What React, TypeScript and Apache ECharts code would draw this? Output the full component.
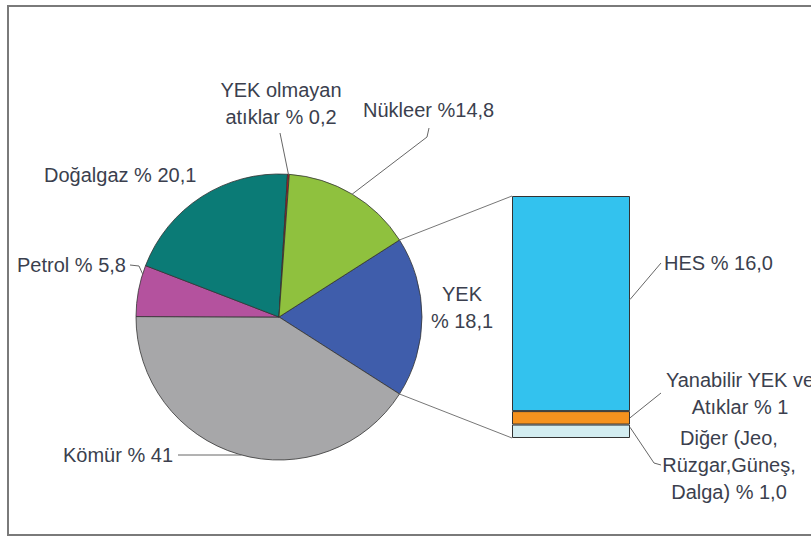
import React, { useEffect, useRef } from "react";
import * as echarts from "echarts";

// Pie (clockwise from the YEK slice)
const pieNames = ["YEK", "Kömür", "Petrol", "Doğalgaz", "YEK olmayan atıklar", "Nükleer"];
const pieValues = [18.1, 41, 5.8, 20.1, 0.2, 14.8];
const pieColors = ["#3f5dab", "#a7a7a9", "#b4529e", "#0b7b76", "#c8161d", "#8fc13e"];

// Bar of pie (bottom to top)
const barNames = ["Diğer (Jeo, Rüzgar, Güneş, Dalga)", "Yanabilir YEK ve Atıklar", "HES"];
const barValues = [1.0, 1, 16.0];
const barColors = ["#d3edf1", "#f6921e", "#33c2ee"];

// Label texts
const labelYekOlmayan = "YEK olmayan\natıklar % 0,2";
const labelNukleer = "Nükleer %14,8";
const labelDogalgaz = "Doğalgaz % 20,1";
const labelPetrol = "Petrol % 5,8";
const labelKomur = "Kömür % 41";
const labelYek = "YEK\n% 18,1";
const labelHes = "HES % 16,0";
const labelYanabilir = "Yanabilir YEK ve\nAtıklar % 1";
const labelDiger = "Diğer (Jeo,\nRüzgar,Güneş,\nDalga) % 1,0";

const W = 811;
const H = 538;
const CX = 279;
const CY = 317;
const R = 143;
const GRID = { left: 512, top: 196, width: 118, height: 242 };
const TEXT = "#3b3f4e";
const FONT = '"Liberation Sans", Arial, sans-serif';

export default function App() {
  const ref = useRef<HTMLDivElement>(null);
  useEffect(() => {
    document.body.style.margin = "0";
    if (!ref.current) return;
    const chart = echarts.init(ref.current, undefined, { renderer: "svg" });
    const total = pieValues.reduce((a, b) => a + b, 0);
    const startAngle = (pieValues[0] / total) * 360 / 2;
    const barTotal = barValues.reduce((a, b) => a + b, 0);

    chart.setOption({
      animation: false,
      backgroundColor: "#ffffff",
      grid: { ...GRID, containLabel: false },
      xAxis: { type: "category", data: [""], show: false, boundaryGap: true },
      yAxis: { type: "value", min: 0, max: barTotal, show: false },
      series: [
        {
          type: "pie",
          center: [CX, CY],
          radius: R,
          startAngle,
          clockwise: true,
          label: { show: false },
          labelLine: { show: false },
          emphasis: { disabled: true },
          silent: true,
          itemStyle: { borderColor: "#333", borderWidth: 0.8 },
          data: pieNames.map((n, i) => ({ name: n, value: pieValues[i], itemStyle: { color: pieColors[i] } })),
        },
        ...barNames.map((n, i) => ({
          type: "bar",
          name: n,
          stack: "yek",
          barWidth: "100%",
          silent: true,
          itemStyle: { color: barColors[i], borderColor: "#333", borderWidth: 1 },
          data: [barValues[i]],
        })),
      ],
    });

    // slice angles
    const cum: number[] = [];
    let acc = 0;
    pieValues.forEach((v) => {
      cum.push(acc);
      acc += v;
    });
    const angStart = (i: number) => startAngle - (cum[i] / total) * 360;
    const angMid = (i: number) => angStart(i) - (pieValues[i] / total) * 180;
    const edge = (a: number) => [CX + R * Math.cos((a * Math.PI) / 180), CY - R * Math.sin((a * Math.PI) / 180)];

    const yPix = (v: number) => chart.convertToPixel({ yAxisIndex: 0 }, v) as number;
    const barLeft = GRID.left;
    const barRight = GRID.left + GRID.width;

    const topJoin = edge(startAngle);
    const botJoin = edge(angStart(1));

    const line = (pts: number[][], stroke = "#666") => ({
      type: "polyline",
      silent: true,
      shape: { points: pts },
      style: { stroke, lineWidth: 1, fill: null },
      z: 10,
    });
    const text = (t: string, x: number, y: number, align = "left") => ({
      type: "text",
      silent: true,
      x,
      y,
      style: {
        text: t,
        fill: TEXT,
        fontSize: 20,
        fontFamily: FONT,
        align,
        verticalAlign: "middle",
        lineHeight: 27,
      },
      z: 20,
    });

    // Kömür leader hits the pie edge (lower left) at y=455
    const komurAng = -180 + (Math.asin((455 - CY) / R) * 180) / Math.PI;

    chart.setOption({
      graphic: [
        {
          type: "rect",
          silent: true,
          shape: { x: 8, y: 6, width: 820, height: 529 },
          style: { fill: null, stroke: "#7a7a7a", lineWidth: 2 },
        },
        line([topJoin, [barLeft, yPix(barTotal)]], "#777"),
        line([botJoin, [barLeft, yPix(0)]], "#777"),
        line([[280, 133], edge(angMid(4))]),
        line([[429, 128], [427, 137], edge(angMid(5))]),
        line([[130, 265], [139, 266], edge(162.5)]),
        line([[178, 455], edge(komurAng)]),
        line([[barRight, yPix(10.3)], [661, 263]]),
        line([[barRight, yPix(1.5)], [661, 393]]),
        line([[barRight, yPix(0.8)], [654, 463], [661, 465]]),
        text(labelYekOlmayan, 281, 103, "center"),
        text(labelNukleer, 363, 110),
        text(labelDogalgaz, 44, 175),
        text(labelPetrol, 17, 265),
        text(labelKomur, 63, 455),
        text(labelYek, 462, 307, "center"),
        text(labelHes, 664, 263),
        text(labelYanabilir, 740, 393, "center"),
        text(labelDiger, 729, 465, "center"),
      ],
    });

    return () => chart.dispose();
  }, []);
  return <div ref={ref} style={{ width: W, height: H }} />;
}
